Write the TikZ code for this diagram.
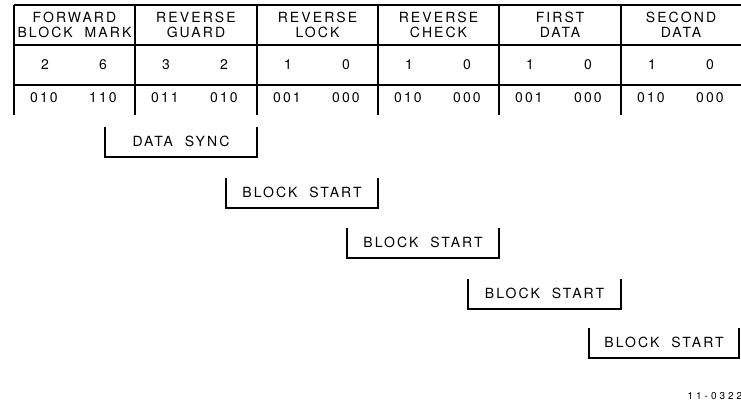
\documentclass[tikz,border=0pt]{standalone}
\usepackage{fontspec}
\setmainfont{TeX Gyre Heros}[LetterSpace=15,WordSpace=2]
\newfontfamily\idfont{TeX Gyre Heros}[LetterSpace=30]
\begin{document}
\begin{tikzpicture}[x=1pt,y=-1pt,line width=1.5pt,
  lbl/.style={font=\fontsize{14}{15}\selectfont,inner sep=0pt,align=center},
  idlbl/.style={font=\idfont\fontsize{10}{10}\selectfont,inner sep=0pt,anchor=east}]
\useasboundingbox (0,0) rectangle (741,406);
% table frame
\draw (14,5) -- (741,5);
\draw (14,45) -- (741,45);
\draw (14,85) -- (741,85);
\foreach \x in {14,135,257,378,499,621} \draw (\x,5) -- (\x,115);
% columns
\foreach \i/\l/\r/\t/\da/\db/\ba/\bb in {
  1/14/135/{FORWARD\\BLOCK MARK}/2/6/010/110,
  2/135/257/{REVERSE\\GUARD}/3/2/011/010,
  3/257/378/{REVERSE\\LOCK}/1/0/001/000,
  4/378/499/{REVERSE\\CHECK}/1/0/010/000,
  5/499/621/{FIRST\\DATA}/1/0/001/000,
  6/621/741/{SECOND\\DATA}/1/0/010/000} {
  \node[lbl] (h\i) at ({(\l+\r)/2},25) {\t};
  \node[lbl] (da\i) at (\l+31,65) {\da};
  \node[lbl] (db\i) at (\l+89,65) {\db};
  \node[lbl] (ba\i) at (\l+30,98) {\ba};
  \node[lbl] (bb\i) at (\l+89,98) {\bb};
}
% brackets
\foreach \i/\l/\r/\t/\txt in {
  1/105/257/127/{DATA SYNC},
  2/226/378/178/{BLOCK START},
  3/347/499/228/{BLOCK START},
  4/468/621/279/{BLOCK START},
  5/589/739/328/{BLOCK START}} {
  \node[lbl] (k\i) at ({(\l+\r)/2},\t+14) {\txt};
  \draw (\l,\t) -- (\l,\t+30) -- (\r,\t+30) -- (\r,\t);
}
\node[idlbl] (fig) at (743,396) {11-0322};
\end{tikzpicture}
\end{document}
